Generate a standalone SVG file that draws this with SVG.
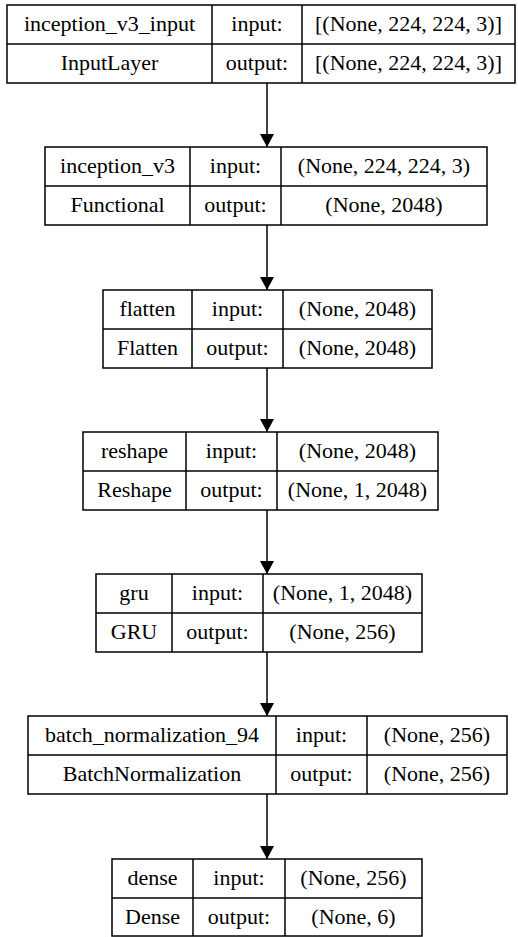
<svg xmlns="http://www.w3.org/2000/svg" width="518" height="937" viewBox="0 0 518 937">
  <style>
    .box { fill: #fff; stroke: #000; stroke-width: 1.5; }
    .sep { stroke: #000; stroke-width: 1.5; }
    text { font-family: "Liberation Serif", "Times New Roman", serif; font-size: 22px; fill: #000; text-anchor: middle; }
    .edge { stroke: #000; stroke-width: 1.5; fill: none; }
  </style>
  <defs>
    <marker id="arrow" markerUnits="userSpaceOnUse" markerWidth="14" markerHeight="18" refX="13" refY="7" orient="auto">
      <path d="M0,0 L13,7 L0,14 Z" fill="#000"/>
    </marker>
  </defs>
  <rect width="518" height="937" fill="#fff"/>

  <!-- edges between layers -->
  <g id="connectors">
    <line class="edge" x1="267" y1="83" x2="267" y2="147" marker-end="url(#arrow)"/>
    <line class="edge" x1="267" y1="225" x2="267" y2="290" marker-end="url(#arrow)"/>
    <line class="edge" x1="267" y1="368" x2="267" y2="432" marker-end="url(#arrow)"/>
    <line class="edge" x1="267" y1="510" x2="267" y2="574" marker-end="url(#arrow)"/>
    <line class="edge" x1="267" y1="652" x2="267" y2="716" marker-end="url(#arrow)"/>
    <line class="edge" x1="267" y1="794" x2="267" y2="859" marker-end="url(#arrow)"/>
  </g>

  <g id="inception_v3_input">
    <rect class="box" x="7" y="5" width="508" height="78"/>
    <line class="sep" x1="7" y1="44" x2="515" y2="44"/>
    <line class="sep" x1="212" y1="5" x2="212" y2="83"/>
    <line class="sep" x1="302" y1="5" x2="302" y2="83"/>
    <text x="109.5" y="31">inception_v3_input</text>
    <text x="257" y="31">input:</text>
    <text x="408.5" y="31">[(None, 224, 224, 3)]</text>
    <text x="109.5" y="70">InputLayer</text>
    <text x="257" y="70">output:</text>
    <text x="408.5" y="70">[(None, 224, 224, 3)]</text>
  </g>

  <g id="inception_v3">
    <rect class="box" x="45" y="147" width="442" height="78"/>
    <line class="sep" x1="45" y1="186" x2="487" y2="186"/>
    <line class="sep" x1="190" y1="147" x2="190" y2="225"/>
    <line class="sep" x1="281" y1="147" x2="281" y2="225"/>
    <text x="117.5" y="173">inception_v3</text>
    <text x="235.5" y="173">input:</text>
    <text x="384" y="173">(None, 224, 224, 3)</text>
    <text x="117.5" y="212">Functional</text>
    <text x="235.5" y="212">output:</text>
    <text x="384" y="212">(None, 2048)</text>
  </g>

  <g id="flatten">
    <rect class="box" x="103" y="290" width="329" height="78"/>
    <line class="sep" x1="103" y1="329" x2="432" y2="329"/>
    <line class="sep" x1="192" y1="290" x2="192" y2="368"/>
    <line class="sep" x1="283" y1="290" x2="283" y2="368"/>
    <text x="147.5" y="316">flatten</text>
    <text x="237.5" y="316">input:</text>
    <text x="357.5" y="316">(None, 2048)</text>
    <text x="147.5" y="355">Flatten</text>
    <text x="237.5" y="355">output:</text>
    <text x="357.5" y="355">(None, 2048)</text>
  </g>

  <g id="reshape">
    <rect class="box" x="83" y="432" width="355" height="78"/>
    <line class="sep" x1="83" y1="471" x2="438" y2="471"/>
    <line class="sep" x1="186" y1="432" x2="186" y2="510"/>
    <line class="sep" x1="277" y1="432" x2="277" y2="510"/>
    <text x="134.5" y="458">reshape</text>
    <text x="231.5" y="458">input:</text>
    <text x="357.5" y="458">(None, 2048)</text>
    <text x="134.5" y="497">Reshape</text>
    <text x="231.5" y="497">output:</text>
    <text x="357.5" y="497">(None, 1, 2048)</text>
  </g>

  <g id="gru">
    <rect class="box" x="96" y="574" width="326" height="78"/>
    <line class="sep" x1="96" y1="613" x2="422" y2="613"/>
    <line class="sep" x1="172" y1="574" x2="172" y2="652"/>
    <line class="sep" x1="263" y1="574" x2="263" y2="652"/>
    <text x="134" y="600">gru</text>
    <text x="217.5" y="600">input:</text>
    <text x="342.5" y="600">(None, 1, 2048)</text>
    <text x="134" y="639">GRU</text>
    <text x="217.5" y="639">output:</text>
    <text x="342.5" y="639">(None, 256)</text>
  </g>

  <g id="batch_normalization_94">
    <rect class="box" x="28" y="716" width="479" height="78"/>
    <line class="sep" x1="28" y1="755" x2="507" y2="755"/>
    <line class="sep" x1="276" y1="716" x2="276" y2="794"/>
    <line class="sep" x1="367" y1="716" x2="367" y2="794"/>
    <text x="152" y="742">batch_normalization_94</text>
    <text x="321.5" y="742">input:</text>
    <text x="437" y="742">(None, 256)</text>
    <text x="152" y="781">BatchNormalization</text>
    <text x="321.5" y="781">output:</text>
    <text x="437" y="781">(None, 256)</text>
  </g>

  <g id="dense">
    <rect class="box" x="112" y="859" width="310" height="77"/>
    <line class="sep" x1="112" y1="898" x2="422" y2="898"/>
    <line class="sep" x1="193" y1="859" x2="193" y2="936"/>
    <line class="sep" x1="285" y1="859" x2="285" y2="936"/>
    <text x="152.5" y="885">dense</text>
    <text x="239" y="885">input:</text>
    <text x="353.5" y="885">(None, 256)</text>
    <text x="152.5" y="924">Dense</text>
    <text x="239" y="924">output:</text>
    <text x="353.5" y="924">(None, 6)</text>
  </g>
</svg>
